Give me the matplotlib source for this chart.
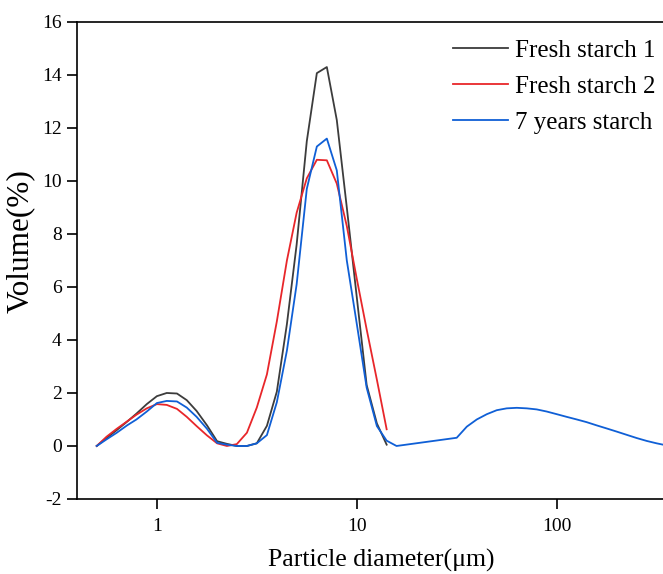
import numpy as np
import matplotlib
matplotlib.use("Agg")
import matplotlib.pyplot as plt

plt.rcParams["font.family"] = ["Liberation Serif", "DejaVu Serif"]
plt.rcParams["axes.unicode_minus"] = False

# particle diameter bins (um) and volume (%)
d_fresh = [0.5, 0.56, 0.63, 0.71, 0.79, 0.89, 1.0, 1.12, 1.26, 1.41, 1.58, 1.78,
           2.0, 2.24, 2.51, 2.82, 3.16, 3.55, 3.98, 4.47, 5.0, 5.62, 6.31, 7.08,
           7.94, 8.91, 10.0, 11.2, 12.6, 14.1]

fresh1 = [0.0, 0.3, 0.6, 0.92, 1.22, 1.58, 1.88, 2.0, 1.98, 1.73, 1.32, 0.78,
          0.18, 0.08, 0.0, 0.0, 0.1, 0.76, 2.05, 4.6, 7.6, 11.5, 14.07, 14.3,
          12.3, 9.0, 5.6, 2.3, 0.85, 0.05]

fresh2 = [0.0, 0.35, 0.65, 0.93, 1.18, 1.42, 1.58, 1.55, 1.4, 1.1, 0.75, 0.4,
          0.1, 0.0, 0.07, 0.5, 1.45, 2.7, 4.7, 7.0, 8.8, 10.1, 10.8, 10.78,
          9.9, 8.3, 6.3, 4.4, 2.5, 0.63]

d_aged = d_fresh + [15.8, 31.6, 35.5, 39.8, 44.7, 50.1, 56.2, 63.1, 70.8, 79.4,
                    89.1, 100, 112, 126, 141, 158, 178, 200, 224, 251, 282, 316, 355]

aged = [0.0, 0.25, 0.5, 0.78, 1.0, 1.3, 1.62, 1.7, 1.68, 1.45, 1.1, 0.65,
        0.12, 0.05, 0.0, 0.0, 0.1, 0.41, 1.65, 3.6, 6.1, 9.7, 11.3, 11.6,
        10.4, 7.0, 4.6, 2.2, 0.75, 0.2,
        0.0, 0.31, 0.73, 1.0, 1.2, 1.35, 1.42, 1.44, 1.42, 1.38, 1.3, 1.2,
        1.1, 1.0, 0.9, 0.78, 0.66, 0.54, 0.42, 0.3, 0.19, 0.1, 0.02]

fig = plt.figure(figsize=(6.63, 5.74), dpi=100)
ax = fig.add_axes([0.116, 0.1307, 0.884, 0.831])

ax.plot(d_fresh, fresh1, color="#3c3c3c", lw=1.3, label="Fresh starch 1")
ax.plot(d_fresh, fresh2, color="#e8262a", lw=1.3, label="Fresh starch 2")
ax.plot(d_aged, aged, color="#0f5fd6", lw=1.3, label="7 years starch")

ax.set_xscale("log")
ax.set_xlim(0.398, 340)
ax.set_ylim(-2, 16)
ax.set_yticks(np.arange(-2, 17, 2))
ax.set_xticks([1, 10, 100])
ax.set_xticklabels(["1", "10", "100"])
ax.minorticks_off()

ax.spines["right"].set_visible(False)
for s in ["left", "bottom", "top"]:
    ax.spines[s].set_linewidth(1.2)
ax.tick_params(direction="out", length=7.5, width=1.2, labelsize=14)
ax.tick_params(axis="x", pad=6)

ax.set_xlabel("Particle diameter(μm)", fontsize=18.5)
ax.xaxis.set_label_coords(0.519, -0.105)
ax.set_ylabel("Volume(%)", fontsize=22.5)
ax.yaxis.set_label_coords(-0.071, 0.54)

ax.legend(loc="upper right", bbox_to_anchor=(1.0, 0.979), frameon=False,
          fontsize=18, handlelength=2.2, handletextpad=0.3, labelspacing=0.54,
          borderaxespad=0.0, borderpad=0.3)

fig.savefig("out.png", dpi=100)
